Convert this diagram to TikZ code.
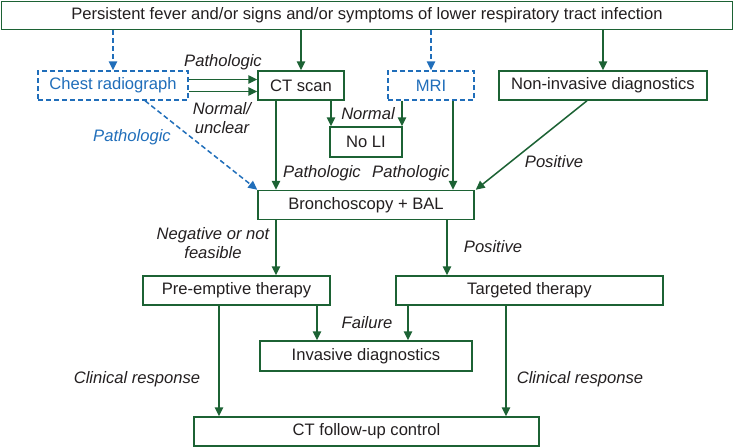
\documentclass[tikz,border=0pt]{standalone}
\usepackage{fontspec}
\setmainfont{Liberation Sans}
\usetikzlibrary{arrows.meta}
\definecolor{dg}{RGB}{28,98,52}
\definecolor{bl}{RGB}{32,110,186}
\definecolor{tx}{RGB}{35,31,32}
\begin{document}
\begin{tikzpicture}[x=1pt,y=-1pt,
  box/.style={draw=dg, line width=1.5pt, text=tx, inner sep=0pt, minimum height=29pt, font=\fontsize{16.6}{19}\selectfont},
  dbox/.style={box, draw=bl, text=bl, dash pattern=on 5pt off 3pt},
  arr/.style={draw=dg, line width=1.5pt, -{Triangle[length=9pt,width=8.5pt]}},
  darr/.style={arr, draw=bl, dash pattern=on 5pt off 3pt},
  lab/.style={text=tx, inner sep=0pt, align=center, font=\fontsize{16.6}{19.5}\selectfont\itshape},
  blab/.style={lab, text=bl}
]
\useasboundingbox (0,0) rectangle (734,447);
% nodes
\node[box, minimum width=731pt, minimum height=28pt] (top) at (367,15.5) {Persistent fever and/or signs and/or symptoms of lower respiratory tract infection};
\node[dbox, minimum width=150pt] (chest) at (113,85.5) {Chest radiograph};
\node[box, minimum width=86pt] (ct) at (301,85.5) {CT scan};
\node[dbox, minimum width=86pt] (mri) at (431,85.5) {MRI};
\node[box, minimum width=208pt] (noninv) at (603,85.5) {Non-invasive diagnostics};
\node[box, minimum width=72pt, minimum height=30pt] (noli) at (366,142) {No LI};
\node[box, minimum width=216pt] (bronch) at (366,205) {Bronchoscopy + BAL};
\node[box, minimum width=187pt] (pre) at (236.5,290.5) {Pre-emptive therapy};
\node[box, minimum width=267pt] (targ) at (529.5,290.5) {Targeted therapy};
\node[box, minimum width=212pt, minimum height=30pt] (inv) at (366,356) {Invasive diagnostics};
\node[box, minimum width=345pt] (ctf) at (366.5,431.5) {CT follow-up control};
% connectors from top
\draw[darr] (top.south -| chest.north) -- (chest.north);
\draw[arr] (top.south -| ct.north) -- (ct.north);
\draw[darr] (top.south -| mri.north) -- (mri.north);
\draw[arr] (top.south -| noninv.north) -- (noninv.north);
% chest to ct
\draw[arr] ([yshift=6pt]chest.east) -- ([yshift=6pt]ct.west);
\draw[arr] ([yshift=-6pt]chest.east) -- ([yshift=-6pt]ct.west);
\draw[darr] ([xshift=32pt]chest.south) -- (bronch.north west);
% ct
\draw[arr] ([xshift=-25pt]ct.south) -- ([xshift=-25pt]ct.south |- bronch.north);
\draw[arr] ([xshift=30pt]ct.south) -- ([xshift=30pt]ct.south |- noli.north);
% mri
\draw[arr] ([xshift=-29pt]mri.south) -- ([xshift=-29pt]mri.south |- noli.north);
\draw[arr] ([xshift=22pt]mri.south) -- ([xshift=22pt]mri.south |- bronch.north);
% non-invasive
\draw[arr] ([xshift=-16pt]noninv.south) -- ([xshift=1pt]bronch.north east);
% bronch
\draw[arr] ([xshift=-90pt]bronch.south) -- ([xshift=-90pt]bronch.south |- pre.north);
\draw[arr] ([xshift=81pt]bronch.south) -- ([xshift=81pt]bronch.south |- targ.north);
% therapies
\draw[arr] ([xshift=80.5pt]pre.south) -- ([xshift=80.5pt]pre.south |- inv.north);
\draw[arr] ([xshift=-121.5pt]targ.south) -- ([xshift=-121.5pt]targ.south |- inv.north);
\draw[arr] ([xshift=-17.5pt]pre.south) -- ([xshift=-17.5pt]pre.south |- ctf.north);
\draw[arr] ([xshift=-23.5pt]targ.south) -- ([xshift=-23.5pt]targ.south |- ctf.north);
% labels
\node[lab] (l1) at (223,62) {Pathologic};
\node[lab] (l2) at (222,118) {Normal/\\unclear};
\node[blab] (l3) at (132,137) {Pathologic};
\node[lab] (l4) at (368,114) {Normal};
\node[lab] (l5) at (322,173) {Pathologic};
\node[lab] (l6) at (411,173) {Pathologic};
\node[lab] (l7) at (554,162) {Positive};
\node[lab] (l8) at (213,243) {Negative or not\\feasible};
\node[lab] (l9) at (493,247) {Positive};
\node[lab] (l10) at (367,323) {Failure};
\node[lab] (l11) at (137,379) {Clinical response};
\node[lab] (l12) at (580,379) {Clinical response};
\end{tikzpicture}
\end{document}
